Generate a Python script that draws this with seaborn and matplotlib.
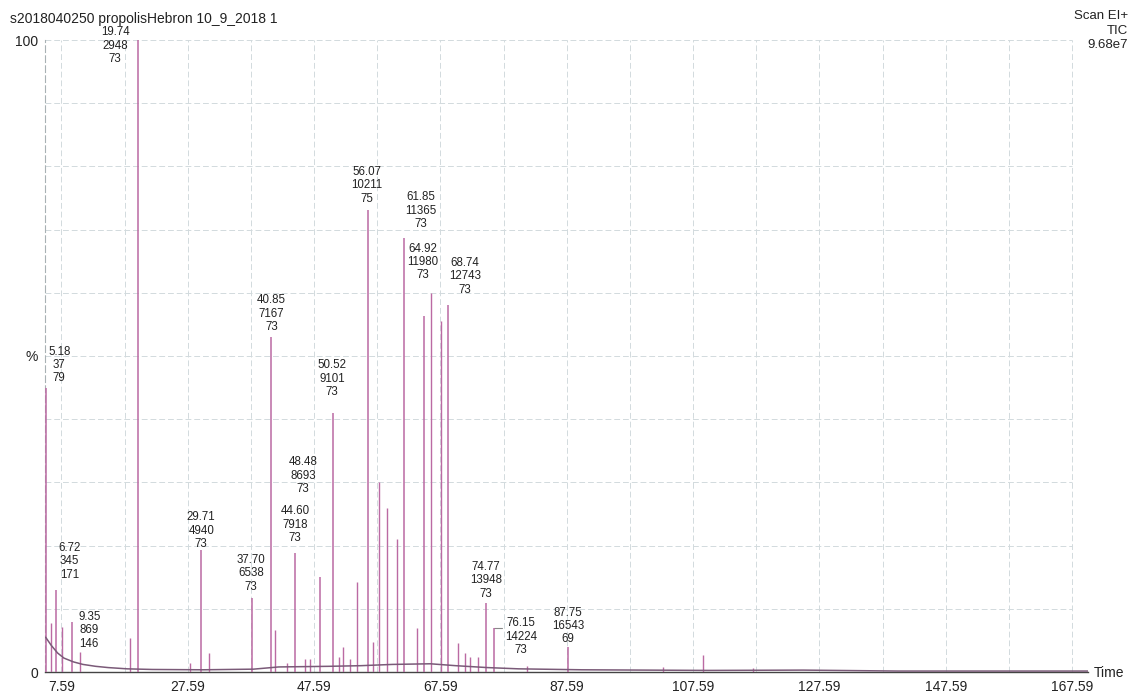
import matplotlib
matplotlib.use("Agg")
import matplotlib.pyplot as plt
import seaborn as sns
import pandas as pd

# ---------------- data ----------------
# annotated peaks: retention time (min), relative intensity (%), scan, base ion
lab_rt = [5.18, 6.72, 9.35, 19.74, 29.71, 37.70, 40.85, 44.60, 48.48, 50.52,
          56.07, 61.85, 64.92, 68.74, 74.77, 76.15, 87.75]
lab_height = [44.9, 13.0, 7.9, 100.0, 19.3, 11.7, 53.0, 18.8, 15.0, 41.0,
              73.1, 68.7, 56.3, 58.1, 10.9, 7.0, 4.0]
lab_scan = ["37", "345", "869", "2948", "4940", "6538", "7167", "7918", "8693", "9101",
            "10211", "11365", "11980", "12743", "13948", "14224", "16543"]
lab_ion = ["79", "171", "146", "73", "73", "73", "73", "73", "73", "73",
           "75", "73", "73", "73", "73", "73", "69"]

# other (unlabelled) peaks
oth_rt = [5.96, 7.70, 10.6, 18.5, 27.99, 31.0, 41.44, 43.3, 46.2, 47.0, 51.5, 52.2,
          53.3, 54.42, 56.95, 57.9, 59.16, 60.75, 63.9, 66.1, 67.7, 70.4, 71.5,
          72.3, 73.5, 81.3, 102.8, 109.1, 117.0]
oth_height = [7.8, 7.1, 3.2, 5.4, 1.4, 3.0, 6.6, 1.5, 2.0, 2.0, 2.4, 4.0,
              2.0, 14.2, 4.7, 30.0, 26.0, 21.0, 7.0, 60.0, 55.5, 4.6, 3.0,
              2.4, 2.4, 0.9, 0.8, 2.7, 0.6]

# baseline of the TIC trace
base_t = [5.1, 6.0, 7.0, 8.0, 9.5, 11.0, 13.0, 15.0, 18.0, 22.0, 30.0, 38.0, 42.0,
          50.0, 55.0, 60.0, 66.0, 70.0, 75.0, 80.0, 90.0, 110.0, 125.0, 140.0, 170.1]
base_level = [5.5, 4.2, 3.0, 2.2, 1.6, 1.2, 0.9, 0.7, 0.5, 0.4, 0.35, 0.45, 0.8,
              0.9, 1.0, 1.2, 1.3, 1.0, 0.7, 0.5, 0.35, 0.25, 0.3, 0.15, 0.15]

xtick_vals = [7.59, 27.59, 47.59, 67.59, 87.59, 107.59, 127.59, 147.59, 167.59]
xtick_labels = ["7.59", "27.59", "47.59", "67.59", "87.59", "107.59", "127.59", "147.59", "167.59"]
grid_x = [7.59 + 10 * k for k in range(17)]
grid_y = [10 * k for k in range(1, 11)]

# label anchor positions (time, % baseline of last text line)
lab_pos_x = [7.26, 8.84, 12.0, 16.12, 29.73, 37.64, 40.89, 44.6, 45.87, 50.46,
             56.0, 64.54, 64.86, 71.5, 74.83, 80.37, 87.81]
lab_pos_y = [46.0, 14.9, 4.0, 96.5, 19.8, 13.0, 54.1, 20.7, 28.5, 43.8,
             74.4, 70.4, 62.3, 60.0, 11.9, 3.0, 4.7]

# ---------------- plot ----------------
sns.set_theme(style="white")
plt.rcParams['font.family'] = ['Liberation Sans', 'DejaVu Sans']

W, H = 1135, 698
XMIN, XMAX = 5.0, 170.1
fig = plt.figure(figsize=(W / 100, H / 100), dpi=100)
ax = fig.add_axes([45 / W, 1 - 672 / H, (1088 - 45) / W, (672 - 40) / H])
ax.set_xlim(XMIN, XMAX)
ax.set_ylim(0, 100)

grid_col = "#d2dadd"
for gx in grid_x:
    ax.axvline(gx, color=grid_col, lw=0.7, ls=(0, (6, 3)), zorder=0)
for gy in grid_y:
    ax.axhline(gy, xmax=(167.59 - XMIN) / (XMAX - XMIN), color=grid_col, lw=0.7,
               ls=(0, (6, 3)), zorder=0)

peak_col = "#bb6aa3"
ax.vlines(oth_rt, 0, oth_height, color=peak_col, lw=1.0, zorder=3)
ax.vlines(lab_rt, 0, lab_height, color=peak_col, lw=1.1, zorder=3)

bdf = pd.DataFrame({"t": base_t, "lvl": base_level})
sns.lineplot(data=bdf, x="t", y="lvl", ax=ax, color="#7a5a78", lw=1.1, zorder=4)

for px, py, rt, sc, ion in zip(lab_pos_x, lab_pos_y, lab_rt, lab_scan, lab_ion):
    ax.text(px, py, f"{rt:.2f}\n{sc}\n{ion}", ha="center", va="baseline",
            multialignment="center", fontsize=8.3, color="#222222",
            linespacing=1.15, zorder=5)

# leader line for the displaced 76.15 label
i = lab_rt.index(76.15)
ax.plot([lab_rt[i], lab_rt[i] + 1.2], [lab_height[i], lab_height[i]],
        color="#888888", lw=0.8)

for s in ["top", "right"]:
    ax.spines[s].set_visible(False)
ax.spines["bottom"].set_color("#444444")
ax.spines["bottom"].set_linewidth(1.0)
ax.spines["left"].set_color("#a8b1b4")
ax.spines["left"].set_linestyle((0, (6, 3)))
ax.spines["left"].set_linewidth(0.8)
ax.spines["left"].set_zorder(1)

ax.set_xticks(xtick_vals)
ax.set_xticklabels(xtick_labels)
ax.set_yticks([0, 100])
ax.set_yticklabels(["0", "100"])
ax.tick_params(axis="both", length=0, labelsize=10, colors="#222222")
ax.tick_params(axis="x", pad=6)
ax.tick_params(axis="y", pad=5)
ax.set_xlabel("")
ax.set_ylabel("")

fig.text(38 / W, 1 - 357 / H, "%", ha="right", va="center", fontsize=10, color="#222222")
fig.text(1094 / W, 1 - 673 / H, "Time", ha="left", va="center", fontsize=10, color="#222222")
fig.text(10 / W, 1 - 19 / H, "s2018040250 propolisHebron 10_9_2018 1", ha="left",
         va="center", fontsize=10, color="#222222")
fig.text(1128 / W, 1 - 10 / H, "Scan EI+\nTIC\n9.68e7", ha="right", va="top",
         multialignment="right", fontsize=9.5, color="#222222", linespacing=1.3)

fig.savefig("out.png", dpi=100, facecolor="white")
